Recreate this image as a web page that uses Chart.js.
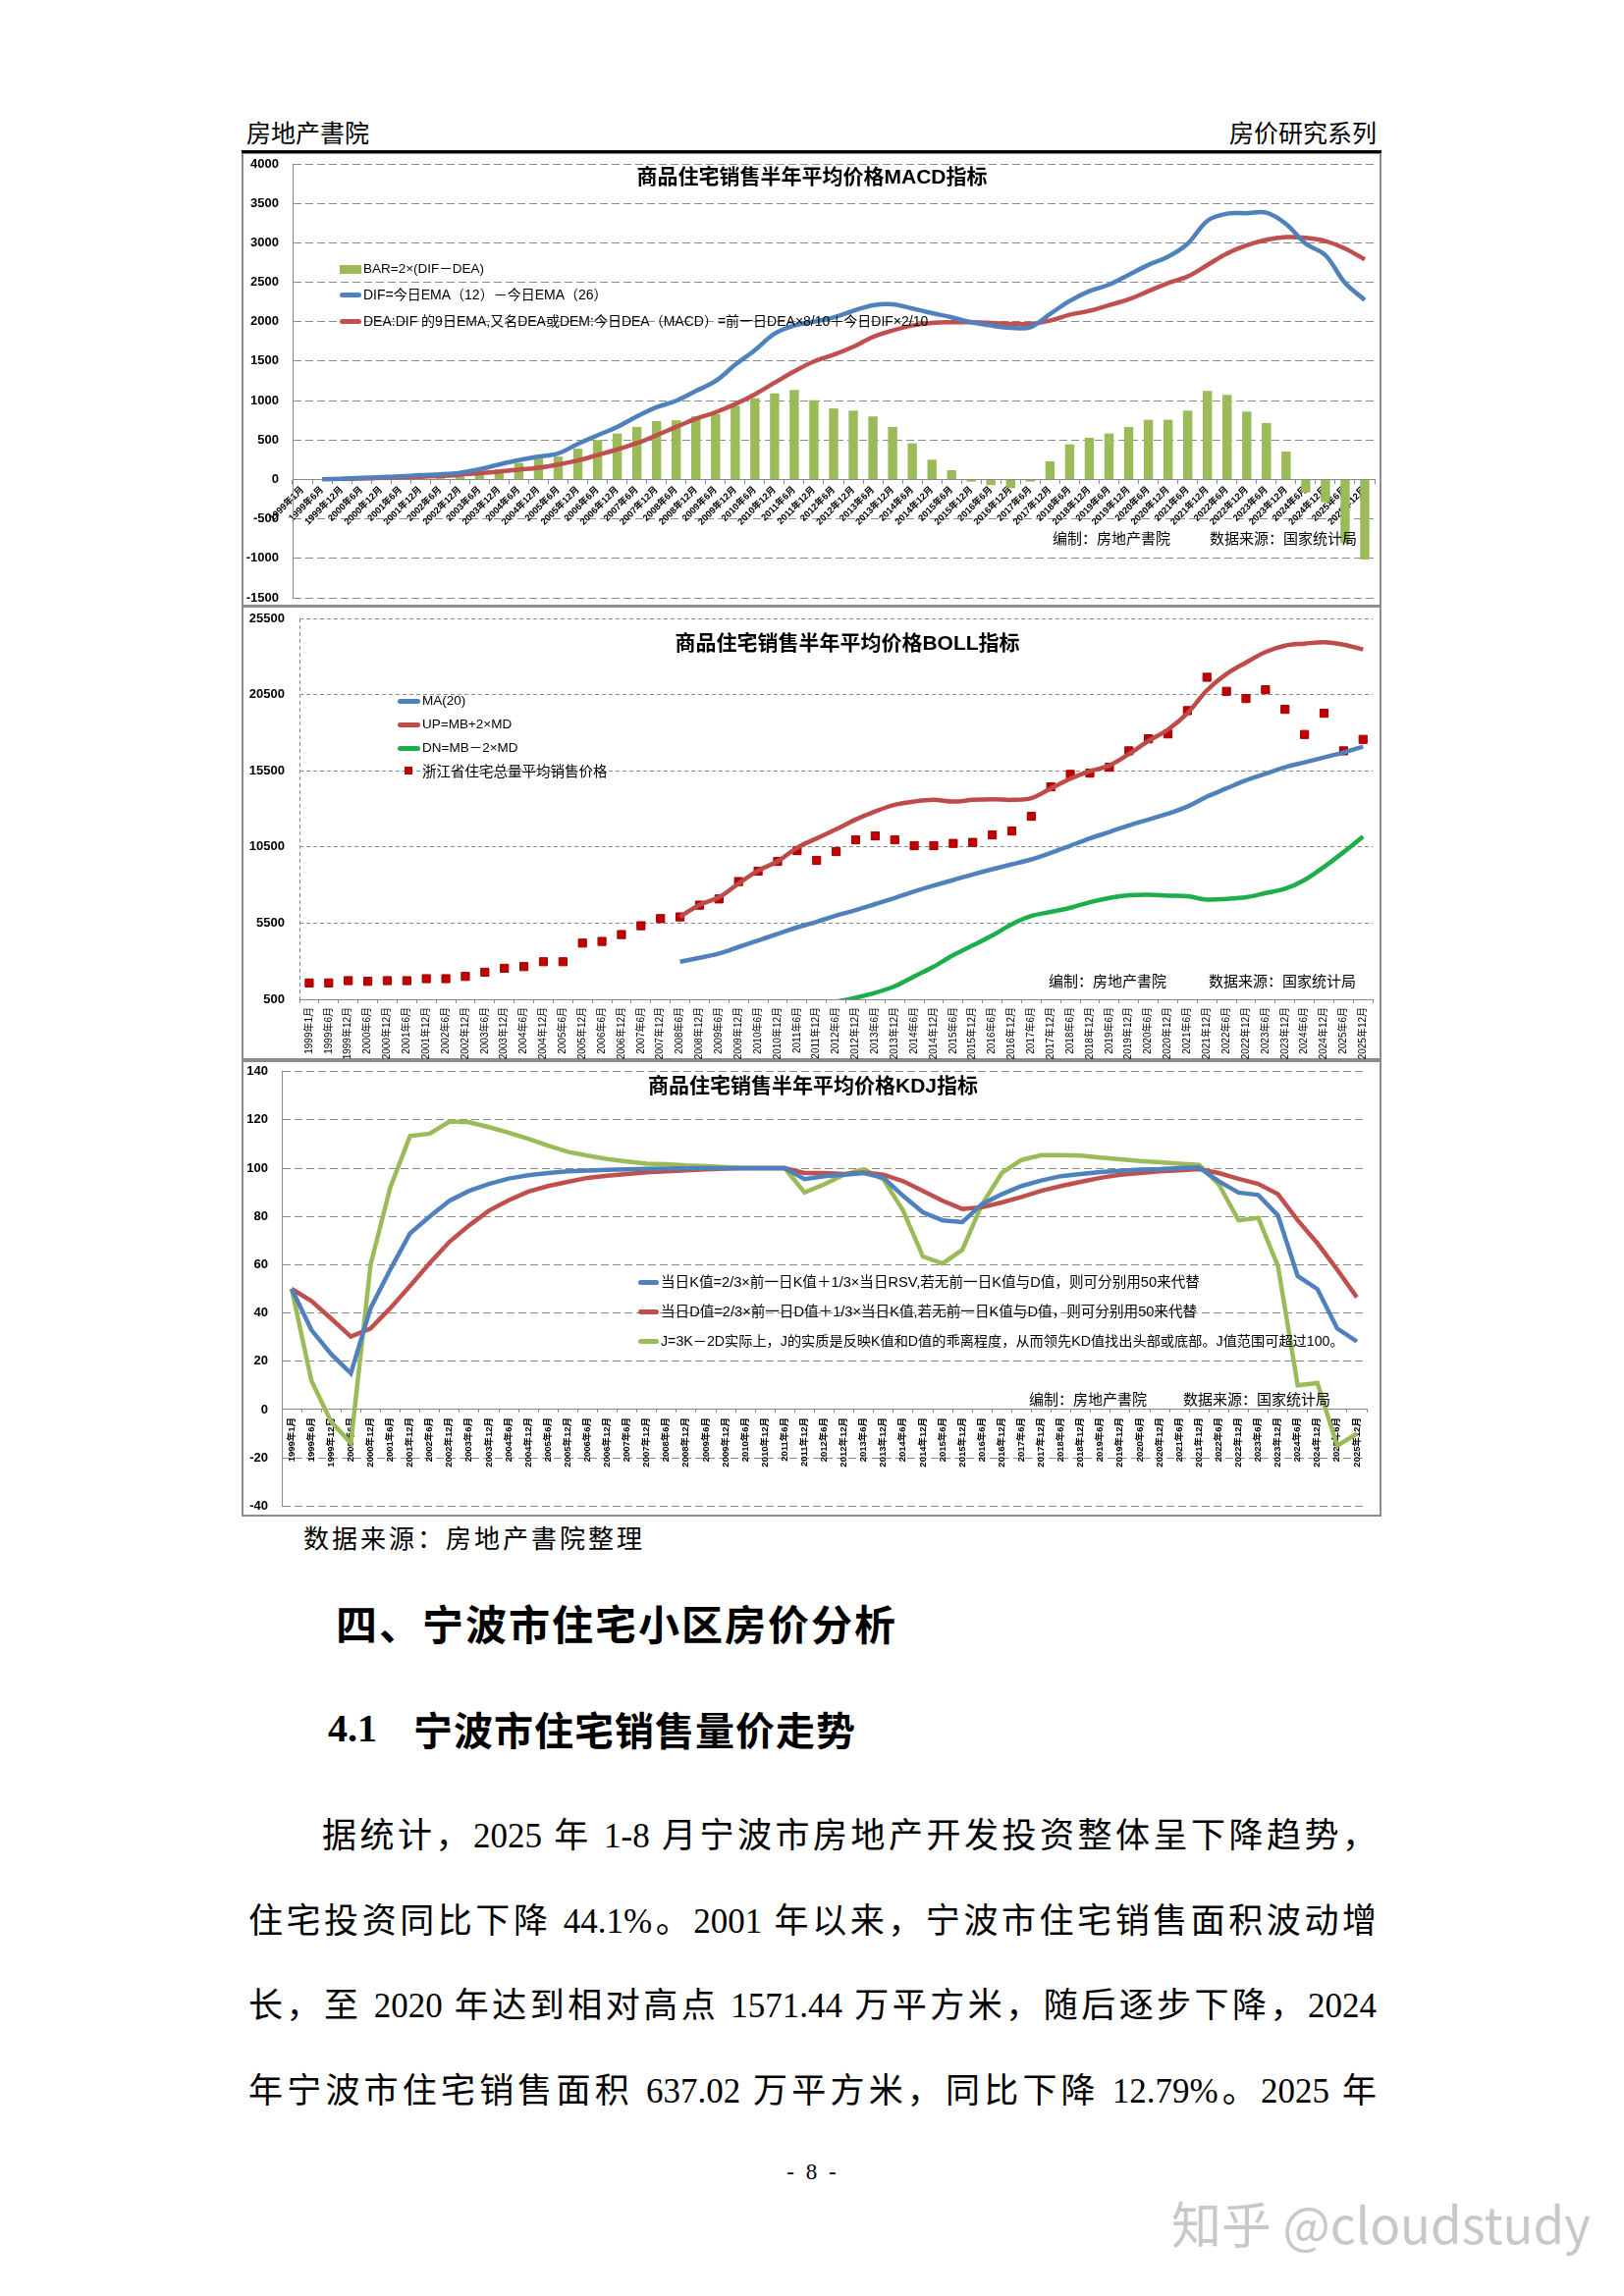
<!DOCTYPE html>
<html><head><meta charset="utf-8">
<script src="https://cdn.jsdelivr.net/npm/chart.js@4.4.1/dist/chart.umd.min.js"></script>
<style>
html,body{margin:0;padding:0;}
body{width:1654px;height:2339px;background:#fff;position:relative;overflow:hidden;font-family:"Liberation Sans","Noto Sans CJK SC",sans-serif;color:#000;}
.t{position:absolute;white-space:nowrap;line-height:1;}
.frame{position:absolute;box-sizing:border-box;border:2px solid #8c8c8c;}
canvas{position:absolute;}
.lg{position:absolute;}
.jl{position:absolute;white-space:nowrap;text-align:justify;text-align-last:justify;line-height:1;font-size:35px;font-family:"Liberation Serif","Noto Sans CJK SC",serif;}
</style></head>
<body>
<div class="frame" style="left:246px;top:155px;width:1161px;height:463px"></div>
<div class="frame" style="left:246px;top:617px;width:1161px;height:463px"></div>
<div class="frame" style="left:246px;top:1080px;width:1161px;height:465px"></div>
<canvas id="c1" width="1158" height="461" style="left:247px;top:157px;width:1158px;height:461px"></canvas>
<canvas id="c2" width="1158" height="461" style="left:247px;top:618px;width:1158px;height:461px"></canvas>
<canvas id="c3" width="1158" height="463" style="left:247px;top:1081px;width:1158px;height:463px"></canvas>
<div style="position:absolute;left:246px;top:153px;width:1161px;height:3px;background:#000"></div>
<div id="ov"></div>
<script>
// ---------------- data ----------------
const categories = ['1999年1月','1999年6月','1999年12月','2000年6月','2000年12月','2001年6月','2001年12月','2002年6月','2002年12月','2003年6月','2003年12月','2004年6月','2004年12月','2005年6月','2005年12月','2006年6月','2006年12月','2007年6月','2007年12月','2008年6月','2008年12月','2009年6月','2009年12月','2010年6月','2010年12月','2011年6月','2011年12月','2012年6月','2012年12月','2013年6月','2013年12月','2014年6月','2014年12月','2015年6月','2015年12月','2016年6月','2016年12月','2017年6月','2017年12月','2018年6月','2018年12月','2019年6月','2019年12月','2020年6月','2020年12月','2021年6月','2021年12月','2022年6月','2022年12月','2023年6月','2023年12月','2024年6月','2024年12月','2025年6月','2025年12月'];

// MACD
const macdBar = [null,0,8,12,15,18,22,28,40,70,130,210,270,290,390,500,583,666,740,750,800,830,935,1030,1090,1135,1005,900,873,799,666,458,251,118,-27,-72,-110,-27,230,446,529,583,666,757,757,873,1122,1073,861,716,355,-164,-289,-807,-1014];
const macdDIF = [null,2,10,20,30,40,55,65,85,130,190,245,290,330,450,560,666,799,915,998,1122,1247,1454,1640,1848,1952,2001,2055,2138,2209,2221,2167,2109,2055,1993,1952,1923,1931,2097,2263,2387,2470,2595,2720,2823,2989,3279,3370,3375,3382,3238,2989,2843,2491,2275];
const macdDEA = [null,null,5,12,20,27,35,45,60,80,100,125,150,190,240,310,380,460,560,666,770,852,956,1080,1226,1371,1496,1580,1682,1807,1889,1952,1985,1993,1993,1985,1972,1972,2014,2088,2138,2209,2284,2387,2491,2574,2719,2865,2968,3039,3072,3063,3022,2927,2790];

// BOLL
const zjPrice = [1573,1573,1723,1678,1723,1723,1852,1852,2000,2277,2534,2644,2966,2966,4189,4298,4749,5329,5798,5906,6680,7086,8226,8908,9552,10260,9617,10196,10969,11226,10969,10582,10582,10733,10797,11290,11548,12513,14445,15262,15346,15732,16807,17599,17921,19447,21636,20715,20239,20819,19531,17882,19273,16807,17560];
const bollMA = [null,null,null,null,null,null,null,null,null,null,null,null,null,null,null,null,null,null,null,2966,3223,3500,3931,4363,4788,5219,5586,6000,6350,6750,7150,7582,7968,8329,8696,9037,9359,9681,10112,10582,11058,11483,11914,12300,12687,13157,13801,14342,14876,15307,15732,16054,16376,16698,17084];
const bollUP = [null,null,null,null,null,null,null,null,null,null,null,null,null,null,null,null,null,null,null,5906,6700,7200,8100,8950,9550,10450,11058,11657,12300,12836,13266,13480,13589,13480,13589,13634,13589,13698,14342,14985,15475,15842,16595,17451,18204,19273,20780,21849,22602,23290,23716,23845,23935,23780,23458];
const bollDN = [null,null,null,null,null,null,null,null,null,null,null,null,null,null,null,null,null,null,null,null,null,null,null,null,null,null,null,330,603,925,1356,2000,2644,3397,4041,4685,5431,5972,6230,6507,6874,7150,7324,7363,7299,7260,7041,7086,7196,7472,7750,8329,9191,10157,11187];

// KDJ
const kdjK = [50,33,23,15,42,58,73,80,86.5,90.6,93.5,95.7,97.1,98,98.7,99,99.3,99.5,99.7,99.8,99.9,100,100,100,100,100,95.5,96.7,97.3,98,96,88.5,81.7,78.4,77.7,85.1,89.2,92.6,94.9,96.7,97.6,98.4,98.9,99.4,99.6,100,100.3,94.6,89.9,88.9,80.4,55.3,49.9,33.6,28.2];
const kdjD = [50,45,37.7,30.2,33.6,42,51.2,60.7,69.5,76.3,82.4,86.7,90.3,92.6,94.3,96,96.9,97.6,98.3,98.7,99.1,99.5,99.8,100,100,100,98,98,97.6,98.2,97.3,94.6,90.6,86.5,83.1,83.8,85.8,88.1,90.6,92.6,94.3,96,97.3,98,98.7,99.1,99.6,98,95.6,93.5,89.2,78.4,68.9,58,46.5];
const kdjJ = [50,12,-5,-14,60,92,113.3,114.3,119.3,119,117,114.7,112.2,109.3,106.8,105.2,103.8,102.8,101.9,101.6,101.1,100.8,100.4,100,100,100,89.9,93.3,97.3,99.6,95.3,82.4,63.4,60.5,66.2,85.1,98,103.4,105.4,105.4,105.2,104.4,103.7,103,102.5,101.9,101.4,93.3,78.4,79.4,59.4,10,11,-15,-10];

// axis ticks
const macdTicks = {min:-1500, max:4000, step:500};
const bollTicks = {min:500, max:25500, step:5000};
const kdjTicks = {min:-40, max:140, step:20};

// ---------------- charts ----------------
Chart.defaults.font.family = '"Liberation Sans","Noto Sans CJK SC",sans-serif';
Chart.defaults.color = '#000';
const GRID = '#8a8a8a';
const CLEAR = 'rgba(0,0,0,0)';
const BLUE = '#4F81BD', RED = '#C0504D', LGREEN = '#9BBB59', GREEN = '#1DAE4B';
const common = {responsive:false, animation:false, devicePixelRatio:1,
  plugins:{legend:{display:false}, tooltip:{enabled:false}, title:{display:false}},
  elements:{point:{radius:0}}};

new Chart(document.getElementById('c1'), {
  type:'bar',
  data:{labels:categories, datasets:[
    {type:'line', data:macdDEA, borderColor:RED, borderWidth:4.5, tension:0.35, pointRadius:0, order:1},
    {type:'line', data:macdDIF, borderColor:BLUE, borderWidth:4.5, tension:0.35, pointRadius:0, order:0},
    {type:'bar', data:macdBar, backgroundColor:LGREEN, barPercentage:0.47, categoryPercentage:1, order:3}
  ]},
  options:Object.assign({}, common, {
    layout:{padding:{left:0,right:5,top:10,bottom:9}},
    scales:{
      x:{position:{y:0}, offset:true,
        grid:{offset:true, drawOnChartArea:false, drawTicks:true, tickLength:4, tickColor:GRID, color:GRID},
        border:{display:true, color:GRID, width:1},
        ticks:{autoSkip:false, minRotation:45, maxRotation:45, padding:1, font:{size:9.5, weight:'bold'}, color:'#000'}},
      y:{min:macdTicks.min, max:macdTicks.max,
        ticks:{stepSize:macdTicks.step, padding:0, font:{size:13, weight:'bold'}, color:'#000', callback:v=>String(v)},
        grid:{color:GRID, drawTicks:true, tickLength:14, tickColor:CLEAR, lineWidth:1},
        border:{display:true, color:GRID, width:1, dash:[8,4]},
        afterFit:s=>{s.width=51;}}
    }
  })
});

new Chart(document.getElementById('c2'), {
  type:'line',
  data:{labels:categories, datasets:[
    {data:bollMA, borderColor:BLUE, borderWidth:4.5, tension:0.35, pointRadius:0},
    {data:bollUP, borderColor:'#BE4B48', borderWidth:4.5, tension:0.35, pointRadius:0},
    {data:bollDN, borderColor:GREEN, borderWidth:4.5, tension:0.35, pointRadius:0},
    {data:zjPrice, showLine:false, pointStyle:'rect', pointRadius:5.8, pointBackgroundColor:'#C00000', pointBorderColor:'#A00000', pointBorderWidth:1}
  ]},
  options:Object.assign({}, common, {
    layout:{padding:{left:0,right:2,top:12,bottom:0}},
    scales:{
      x:{position:'bottom', offset:true,
        grid:{offset:true, drawOnChartArea:true, drawTicks:true, tickLength:4, tickColor:GRID,
          color:c=>c.index===0?GRID:CLEAR, lineWidth:1},
        border:{display:true, color:GRID, width:1, dash:[4,3]},
        ticks:{autoSkip:false, minRotation:90, maxRotation:90, padding:4, font:{size:10}, color:'#000'},
        afterFit:s=>{s.height=61;}},
      y:{min:bollTicks.min, max:bollTicks.max,
        ticks:{stepSize:bollTicks.step, padding:0, font:{size:13, weight:'bold'}, color:'#000', callback:v=>String(v)},
        grid:{color:GRID, drawTicks:true, tickLength:15, tickColor:CLEAR, lineWidth:1},
        border:{display:false, dash:[4,3]},
        afterFit:s=>{s.width=58;}}
    }
  })
});

new Chart(document.getElementById('c3'), {
  type:'line',
  data:{labels:categories, datasets:[
    {data:kdjK, borderColor:BLUE, borderWidth:4.5, tension:0, pointRadius:0, order:0},
    {data:kdjD, borderColor:RED, borderWidth:4.5, tension:0, pointRadius:0, order:1},
    {data:kdjJ, borderColor:LGREEN, borderWidth:4.5, tension:0, pointRadius:0, order:2}
  ]},
  options:Object.assign({}, common, {
    layout:{padding:{left:0,right:13,top:10.7,bottom:9.7}},
    scales:{
      x:{position:{y:0}, offset:true,
        grid:{offset:true, drawOnChartArea:false, drawTicks:true, tickLength:3, tickColor:GRID, color:GRID},
        border:{display:true, color:GRID, width:1},
        ticks:{autoSkip:false, minRotation:90, maxRotation:90, padding:5, font:{size:9.5, weight:'bold'}, color:'#000'}},
      y:{min:kdjTicks.min, max:kdjTicks.max,
        ticks:{stepSize:kdjTicks.step, padding:0, font:{size:13, weight:'bold'}, color:'#000', callback:v=>String(v)},
        grid:{color:GRID, drawTicks:true, tickLength:14, tickColor:CLEAR, lineWidth:1},
        border:{display:true, color:GRID, width:1, dash:[8,4]},
        afterFit:s=>{s.width=40;}}
    }
  })
});

// ---------------- overlay text ----------------
const ov = document.getElementById('ov');
function txt(s, x, yc, size, css, anchor){
  const d = document.createElement('div');
  d.className = 't';
  d.textContent = s;
  d.style.fontSize = size + 'px';
  d.style.top = (yc - size*0.5) + 'px';
  d.style.left = x + 'px';
  if (anchor === 'center') d.style.transform = 'translateX(-50%)';
  if (anchor === 'right') { d.style.left = ''; d.style.right = (1654 - x) + 'px'; }
  if (css) d.style.cssText += css;
  ov.appendChild(d);
  return d;
}
function box(x, y, w, h, color, radius){
  const d = document.createElement('div');
  d.className = 'lg';
  d.style.cssText = `left:${x}px;top:${y}px;width:${w}px;height:${h}px;background:${color};border-radius:${radius||0}px`;
  ov.appendChild(d);
}
// header
txt('房地产書院', 251, 134, 25, 'font-family:"Noto Sans CJK SC"');
txt('房价研究系列', 1402, 134, 25, 'font-family:"Noto Sans CJK SC"', 'right');

// chart 1 title/legend/notes
txt('商品住宅销售半年平均价格MACD指标', 827, 179, 21, 'font-weight:bold', 'center');
box(346, 270, 22, 9, LGREEN);
txt('BAR=2×(DIF－DEA)', 370, 274, 13.5);
box(346, 298, 22, 5, BLUE, 3);
txt('DIF=今日EMA（12）－今日EMA（26）', 370, 300, 14);
box(346, 325, 22, 5, RED, 3);
txt('DEA:DIF 的9日EMA,又名DEA或DEM:今日DEA（MACD）=前一日DEA×8/10＋今日DIF×2/10', 370, 327, 14);
txt('编制：房地产書院', 1072, 547, 15, 'font-family:"Noto Sans CJK SC"');
txt('数据来源：国家统计局', 1232, 547, 15, 'font-family:"Noto Sans CJK SC"');

// chart 2
txt('商品住宅销售半年平均价格BOLL指标', 863, 654, 21, 'font-weight:bold', 'center');
box(405, 712, 23, 5, BLUE, 3);
txt('MA(20)', 430, 714, 13.5);
box(405, 736, 23, 5, '#BE4B48', 3);
txt('UP=MB+2×MD', 430, 738, 13.5);
box(405, 760, 23, 5, GREEN, 3);
txt('DN=MB－2×MD', 430, 762, 13.5);
box(412, 781, 8, 8, '#C00000');
txt('浙江省住宅总量平均销售价格', 430, 785, 14.5, 'font-family:"Noto Sans CJK SC"');
txt('编制：房地产書院', 1068, 998, 15, 'font-family:"Noto Sans CJK SC"');
txt('数据来源：国家统计局', 1231, 998, 15, 'font-family:"Noto Sans CJK SC"');

// chart 3
txt('商品住宅销售半年平均价格KDJ指标', 828, 1105, 21, 'font-weight:bold', 'center');
box(650, 1304, 21, 5, BLUE, 3);
txt('当日K值=2/3×前一日K值＋1/3×当日RSV,若无前一日K值与D值，则可分别用50来代替', 673, 1306, 14.6);
box(650, 1334, 21, 5, RED, 3);
txt('当日D值=2/3×前一日D值＋1/3×当日K值,若无前一日K值与D值，则可分别用50来代替', 673, 1336, 14.6);
box(650, 1364, 21, 5, LGREEN, 3);
txt('J=3K－2D实际上，J的实质是反映K值和D值的乖离程度，从而领先KD值找出头部或底部。J值范围可超过100。', 673, 1366, 14.2);
txt('编制：房地产書院', 1048, 1424, 15, 'font-family:"Noto Sans CJK SC"');
txt('数据来源：国家统计局', 1205, 1424, 15, 'font-family:"Noto Sans CJK SC"');

// below charts
txt('数据来源：房地产書院整理', 309, 1566, 26, 'font-family:"Noto Sans CJK SC";letter-spacing:3px');
txt('四、宁波市住宅小区房价分析', 342, 1653, 42, 'font-family:"Noto Sans CJK SC";font-weight:bold;letter-spacing:2px');
txt('4.1', 334, 1761, 40, 'font-family:"Liberation Serif";font-weight:bold');
txt('宁波市住宅销售量价走势', 421, 1761, 40, 'font-family:"Noto Sans CJK SC";font-weight:bold;letter-spacing:1px');

const para = [
  ['据统计，2025 年 1-8 月宁波市房地产开发投资整体呈下降趋势，', 328, 1870],
  ['住宅投资同比下降 44.1%。2001 年以来，宁波市住宅销售面积波动增', 253, 1957],
  ['长，至 2020 年达到相对高点 1571.44 万平方米，随后逐步下降，2024', 253, 2043],
  ['年宁波市住宅销售面积 637.02 万平方米，同比下降 12.79%。2025 年', 253, 2130]
];
para.forEach(([s,x,yc])=>{
  const d = document.createElement('div');
  d.className = 'jl';
  d.textContent = s;
  d.style.left = x+'px';
  d.style.width = (1402 - x)+'px';
  d.style.top = (yc - 17.5)+'px';
  ov.appendChild(d);
});
txt('- 8 -', 828, 2212, 23, 'font-family:"Liberation Serif";letter-spacing:3px', 'center');
txt('知乎 @cloudstudy', 1193, 2264, 51, 'font-family:"Noto Sans CJK SC";color:#c8c8c8');
</script>
</body></html>
